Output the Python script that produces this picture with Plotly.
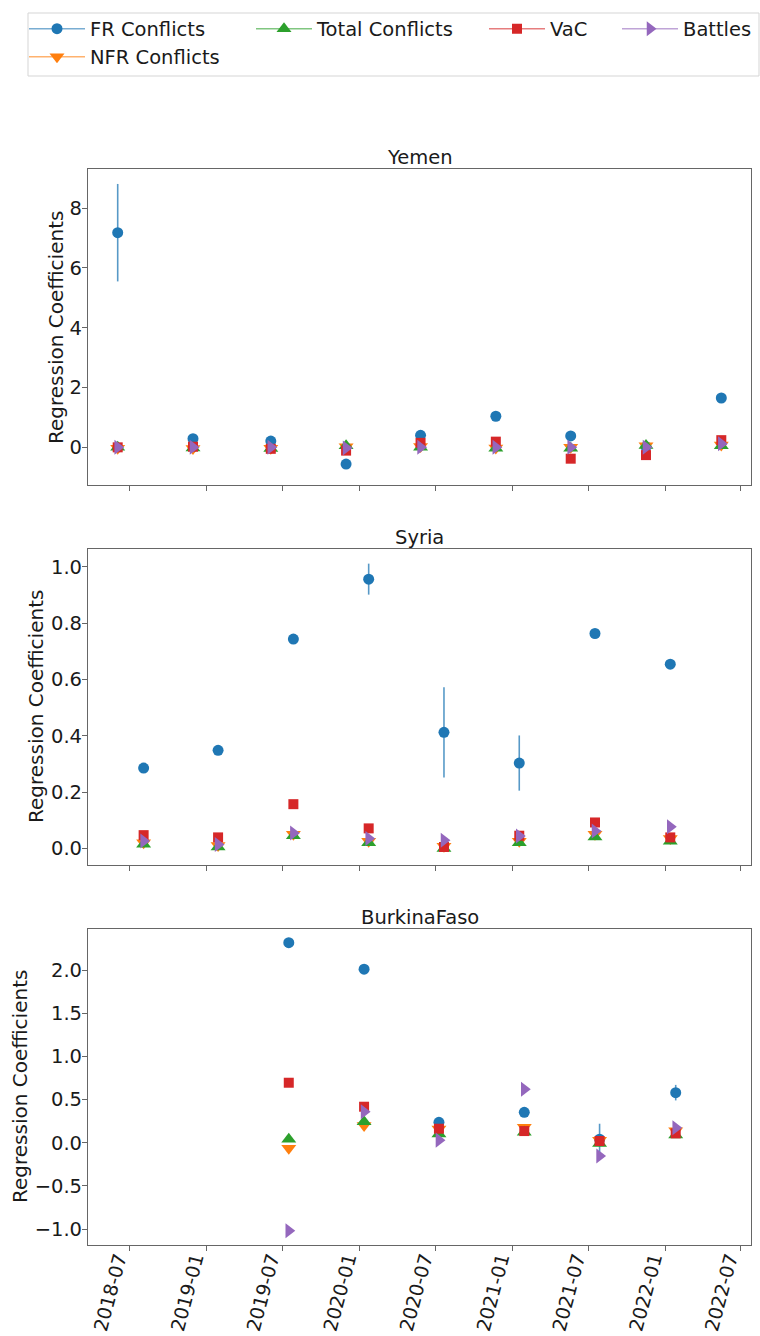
import plotly.graph_objects as go

# ---------------- data ----------------
series_names = ["FR Conflicts", "NFR Conflicts", "Total Conflicts", "VaC", "Battles"]

yemen_dates = ["2018-06-02", "2018-11-29", "2019-06-03", "2019-11-30", "2020-05-26",
               "2020-11-22", "2021-05-20", "2021-11-16", "2022-05-15"]
yemen_fr = [7.18, 0.29, 0.21, -0.56, 0.40, 1.04, 0.38, 0.02, 1.65]
yemen_fr_err = [1.63, 0.04, 0.04, 0.05, 0.04, 0.04, 0.05, 0.04, 0.05]
yemen_nfr = [-0.03, -0.04, -0.03, 0.02, 0.03, -0.02, 0.00, 0.05, 0.08]
yemen_total = [0.00, -0.02, -0.04, 0.05, 0.00, -0.03, -0.03, 0.06, 0.05]
yemen_vac = [0.00, 0.02, -0.05, -0.11, 0.15, 0.19, -0.38, -0.26, 0.24]
yemen_battles = [0.00, 0.00, 0.00, -0.02, 0.00, 0.00, 0.00, 0.00, 0.12]

syria_dates = ["2018-08-03", "2019-01-28", "2019-07-27", "2020-01-23", "2020-07-21",
               "2021-01-17", "2021-07-17", "2022-01-13"]
syria_fr = [0.285, 0.348, 0.743, 0.956, 0.412, 0.303, 0.763, 0.654]
syria_fr_err = [0.004, 0.004, 0.004, 0.055, 0.160, 0.098, 0.004, 0.004]
syria_nfr = [0.020, 0.010, 0.050, 0.025, 0.008, 0.025, 0.050, 0.035]
syria_total = [0.015, 0.005, 0.045, 0.020, 0.000, 0.020, 0.040, 0.025]
syria_vac = [0.047, 0.039, 0.157, 0.071, 0.005, 0.045, 0.092, 0.039]
syria_battles = [0.026, 0.014, 0.055, 0.035, 0.029, 0.044, 0.062, 0.077]

bf_dates = ["2019-07-16", "2020-01-12", "2020-07-09", "2021-01-29", "2021-07-28", "2022-01-26"]
bf_fr = [2.317, 2.010, 0.236, 0.352, 0.040, 0.580]
bf_fr_err = [0.01, 0.01, 0.02, 0.02, 0.18, 0.09]
bf_nfr = [-0.065, 0.200, 0.160, 0.180, 0.030, 0.140]
bf_total = [0.040, 0.243, 0.100, 0.120, -0.010, 0.090]
bf_vac = [0.695, 0.417, 0.162, 0.135, 0.020, 0.108]
bf_battles = [-1.020, 0.360, 0.030, 0.620, -0.154, 0.174]

countries = ["Yemen", "Syria", "BurkinaFaso"]
tick_labels = ["2018-07", "2019-01", "2019-07", "2020-01", "2020-07",
               "2021-01", "2021-07", "2022-01", "2022-07"]
y_title = "Regression Coefficients"

# ---------------- style ----------------
W, H = 760, 1336
FONT = "DejaVu Sans"
FS = 19.5
TXT = "#1a1a1a"
SPINE = "#666666"
colors = ["#1f77b4", "#ff7f0e", "#2ca02c", "#d62728", "#9467bd"]
line_rgba = ["rgba(31,119,180,0.6)", "rgba(255,127,14,0.6)", "rgba(44,160,44,0.6)",
             "rgba(214,39,40,0.6)", "rgba(148,103,189,0.6)"]
symbols = ["circle", "triangle-down", "triangle-up", "square", "triangle-right"]
sizes = [11, 13, 13, 10, 13]

x_left, x_right = 88, 751
panels_px = [(169, 485), (549, 865), (929, 1245)]
ytitle_x_px = [56, 36, 20]
y_ranges = [[-1.26, 9.31], [-0.059, 1.063], [-1.185, 2.476]]
x_range = ["2018-03-23", "2022-07-25"]

fig = go.Figure()

data = [
    (yemen_dates, [yemen_fr, yemen_nfr, yemen_total, yemen_vac, yemen_battles], yemen_fr_err),
    (syria_dates, [syria_fr, syria_nfr, syria_total, syria_vac, syria_battles], syria_fr_err),
    (bf_dates, [bf_fr, bf_nfr, bf_total, bf_vac, bf_battles], bf_fr_err),
]

for p, (dates, vals, err) in enumerate(data):
    xa = "x" if p == 0 else f"x{p+1}"
    ya = "y" if p == 0 else f"y{p+1}"
    for s in range(5):
        kw = {}
        if s == 0:
            kw["error_y"] = dict(type="data", array=err, visible=True, width=0,
                                 thickness=1.6, color="rgba(31,119,180,0.75)")
        fig.add_trace(go.Scatter(
            x=dates, y=vals[s], mode="markers", xaxis=xa, yaxis=ya,
            marker=dict(symbol=symbols[s], size=sizes[s], color=colors[s],
                        line=dict(width=0)),
            showlegend=False, name=series_names[s], **kw))

# legend-only traces, one legend each to mimic the matplotlib column layout
legend_ids = ["legend", "legend5", "legend2", "legend3", "legend4"]
for s in range(5):
    fig.add_trace(go.Scatter(
        x=[None], y=[None], mode="lines+markers", name=series_names[s],
        line=dict(color=line_rgba[s], width=1.6),
        marker=dict(symbol=symbols[s], size=sizes[s], color=colors[s], line=dict(width=0)),
        legend=legend_ids[s], showlegend=True))

axis_common = dict(showline=True, mirror=True, linecolor=SPINE, linewidth=1.2,
                   showgrid=False, zeroline=False, ticks="outside", ticklen=5,
                   tickwidth=1.2, tickcolor=SPINE,
                   tickfont=dict(family=FONT, size=FS, color=TXT))

layout = dict(width=W, height=H, margin=dict(l=0, r=0, t=0, b=0),
              paper_bgcolor="white", plot_bgcolor="white",
              font=dict(family=FONT, size=FS, color=TXT))

ytick_cfg = [dict(tickvals=[0, 2, 4, 6, 8]),
             dict(dtick=0.2, tick0=0, tickformat=".1f"),
             dict(dtick=0.5, tick0=0, tickformat=".1f")]

annotations = []
for p in range(3):
    top, bot = panels_px[p]
    xk = "xaxis" if p == 0 else f"xaxis{p+1}"
    yk = "yaxis" if p == 0 else f"yaxis{p+1}"
    layout[xk] = dict(axis_common, type="date", range=x_range,
                      domain=[x_left / W, x_right / W],
                      anchor="y" if p == 0 else f"y{p+1}",
                      tickvals=[t + "-01" for t in tick_labels], ticktext=tick_labels,
                      showticklabels=(p == 2), tickangle=-75, automargin=False,
                      ticklabelshift=-12, ticklabelstandoff=-11)
    layout[xk]["tickfont"] = dict(family=FONT, size=19, color=TXT)
    if p > 0:
        layout[xk]["matches"] = "x"
    layout[yk] = dict(axis_common, range=y_ranges[p],
                      domain=[1 - bot / H, 1 - top / H],
                      anchor="x" if p == 0 else f"x{p+1}",
                      automargin=False, ticklabelstandoff=-4, **ytick_cfg[p])
    annotations.append(dict(text=countries[p], xref="paper", yref="paper",
                            x=(x_left + x_right) / 2 / W, y=1 - top / H, yshift=-2,
                            xanchor="center", yanchor="bottom", showarrow=False,
                            font=dict(family=FONT, size=FS, color=TXT)))
    annotations.append(dict(text=y_title, xref="paper", yref="paper", textangle=-90,
                            x=ytitle_x_px[p] / W, y=1 - (top + bot) / 2 / H,
                            xanchor="center", yanchor="middle", showarrow=False,
                            font=dict(family=FONT, size=20, color=TXT)))
layout["annotations"] = annotations

leg_pos = {"legend": (24, 29), "legend5": (24, 57), "legend2": (251, 29),
           "legend3": (484, 29), "legend4": (617, 29)}
for lid, (px, py) in leg_pos.items():
    layout[lid] = dict(x=px / W, y=1 - py / H, xanchor="left", yanchor="middle",
                       bgcolor="rgba(0,0,0,0)", borderwidth=0, itemwidth=56,
                       font=dict(family=FONT, size=FS, color=TXT))

layout["shapes"] = [dict(type="rect", xref="paper", yref="paper",
                         x0=28 / W, x1=759 / W, y0=1 - 76 / H, y1=1 - 13 / H,
                         line=dict(color="#d5d5d5", width=1))]

fig.update_layout(**layout)
fig.write_html("out.html", config={"displayModeBar": False},
               post_script="document.body.style.margin='0';"
                           "document.documentElement.style.overflow='hidden';")
